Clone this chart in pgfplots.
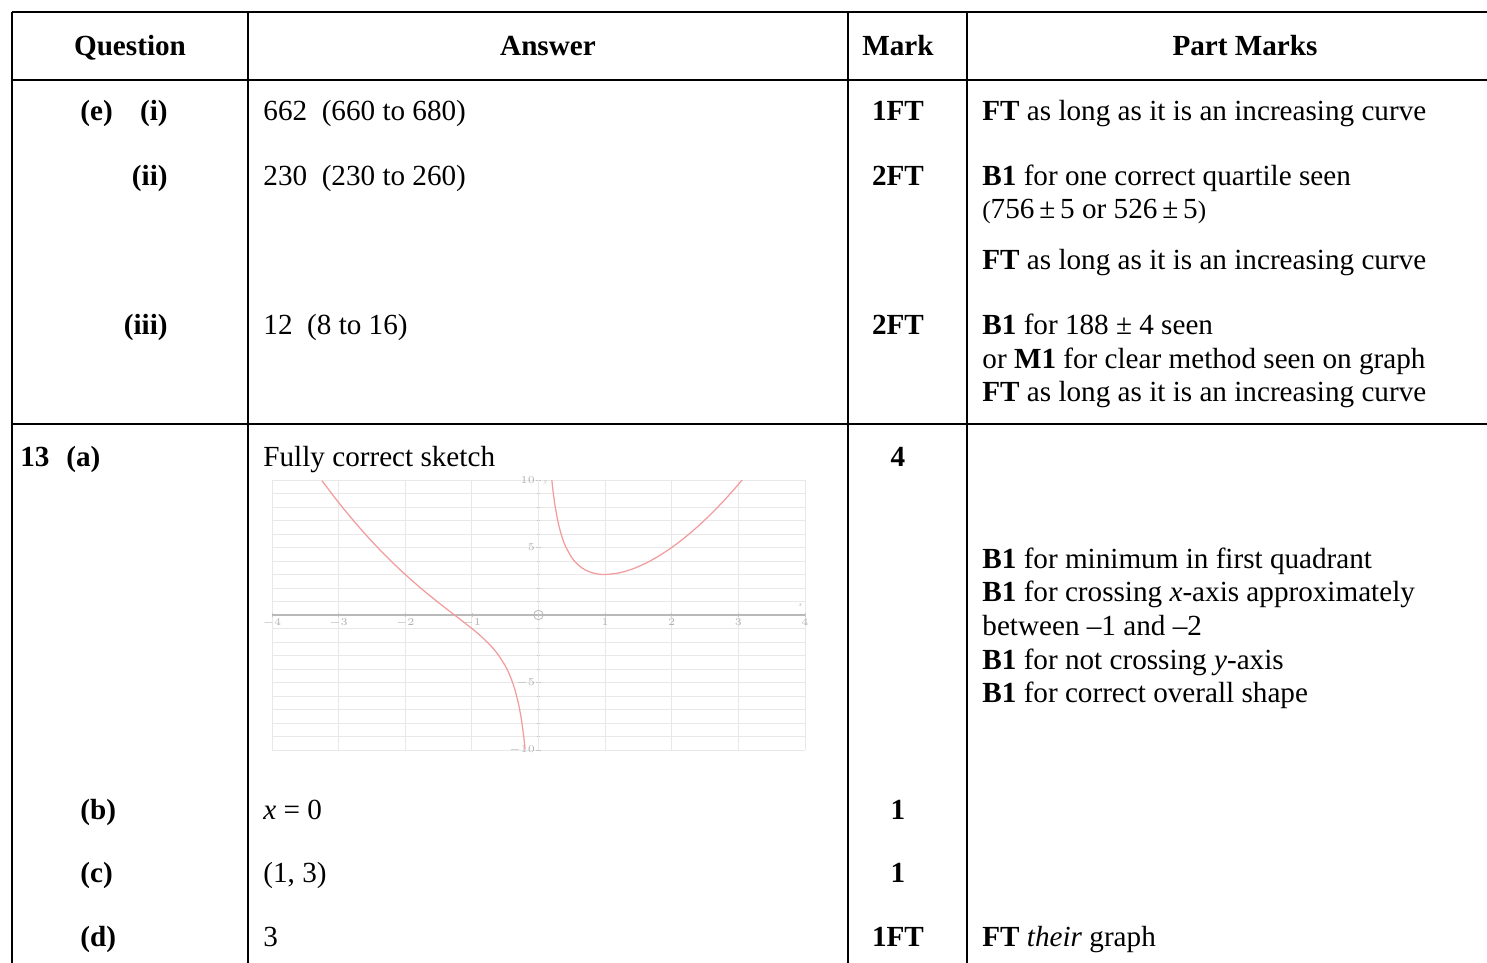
\documentclass[border=0pt]{standalone}
\usepackage{pgfplots}
\pgfplotsset{compat=1.18}
\usepackage{fontspec}
\setmainfont{Liberation Serif}
\definecolor{curve}{HTML}{F29C9C}
\begin{document}
\fontsize{14}{18}\selectfont
\begin{tikzpicture}[x=0.48pt,y=-0.48pt, every node/.style={inner sep=0pt}]
\useasboundingbox (0,0) rectangle (1487,963);
% table rules
\draw[line width=1.2pt] (12,12) -- (1487,12);
\draw[line width=1.2pt] (12,80) -- (1487,80);
\draw[line width=1.2pt] (12,424) -- (1487,424);
\foreach \xx in {12,248,848,967} \draw[line width=1.2pt] (\xx,12) -- (\xx,963);
% header
\node[anchor=base] at (130,55) {\textbf{Question}};
\node[anchor=base] at (548,55) {\textbf{Answer}};
\node[anchor=base] at (898,55) {\textbf{Mark}};
\node[anchor=base] at (1245,55) {\textbf{Part Marks}};
% question column
\node[anchor=base west] at (80,120) {\textbf{(e)}};
\node[anchor=base east] at (168,120) {\textbf{(i)}};
\node[anchor=base east] at (168,185) {\textbf{(ii)}};
\node[anchor=base east] at (168,334) {\textbf{(iii)}};
\node[anchor=base west] at (20,466) {\textbf{13}};
\node[anchor=base west] at (66,466) {\textbf{(a)}};
\node[anchor=base west] at (80,819) {\textbf{(b)}};
\node[anchor=base west] at (80,882) {\textbf{(c)}};
\node[anchor=base west] at (80,946) {\textbf{(d)}};
% answer column
\node[anchor=base west] at (263,120) {662~ (660 to 680)};
\node[anchor=base west] at (263,185) {230~ (230 to 260)};
\node[anchor=base west] at (263,334) {12~ (8 to 16)};
\node[anchor=base west] at (263,466) {Fully correct sketch};
\node[anchor=base west] at (263,819) {\textit{x} = 0};
\node[anchor=base west] at (263,882) {(1, 3)};
\node[anchor=base west] at (263,946) {3};
% mark column
\node[anchor=base] at (898,120) {\textbf{1FT}};
\node[anchor=base] at (898,185) {\textbf{2FT}};
\node[anchor=base] at (898,334) {\textbf{2FT}};
\node[anchor=base] at (898,466) {\textbf{4}};
\node[anchor=base] at (898,819) {\textbf{1}};
\node[anchor=base] at (898,882) {\textbf{1}};
\node[anchor=base] at (898,946) {\textbf{1FT}};
% part marks column
\node[anchor=base west] at (982,120) {\textbf{FT} as long as it is an increasing curve};
\node[anchor=base west] at (982,185) {\textbf{B1} for one correct quartile seen};
\node[anchor=base west] at (982,218) {{\large(}756\,±\,5 or 526\,±\,5{\large)}};
\node[anchor=base west] at (982,269) {\textbf{FT} as long as it is an increasing curve};
\node[anchor=base west] at (982,334) {\textbf{B1} for 188 ± 4 seen};
\node[anchor=base west] at (982,368) {or \textbf{M1} for clear method seen on graph};
\node[anchor=base west] at (982,401) {\textbf{FT} as long as it is an increasing curve};
\node[anchor=base west] at (982,568) {\textbf{B1} for minimum in first quadrant};
\node[anchor=base west] at (982,601) {\textbf{B1} for crossing \textit{x}-axis approximately};
\node[anchor=base west] at (982,635) {between –1 and –2};
\node[anchor=base west] at (982,669) {\textbf{B1} for not crossing \textit{y}-axis};
\node[anchor=base west] at (982,702) {\textbf{B1} for correct overall shape};
\node[anchor=base west] at (982,946) {\textbf{FT} \textit{their} graph};
% sketch
\coordinate (G) at (272,750);
\begin{axis}[at={(G)}, anchor=south west, scale only axis,
  width=255.8pt, height=129.6pt,
  xmin=-4, xmax=4, ymin=-10, ymax=10,
  axis lines=middle, axis line style={gray!55, line width=0.8pt, -},
  xtick={-4,-3,-2,-1,1,2,3,4}, ytick={-10,-5,5,10}, minor ytick={-9,...,9},
  extra x ticks={0}, extra x tick labels={}, extra x tick style={grid=major},
  grid=both, major grid style={gray!18, line width=0.4pt},
  minor grid style={gray!18, line width=0.4pt},
  tick style={gray!45}, major tick length=2pt, minor tick length=1.5pt,
  ticklabel style={font=\fontsize{3}{3}\selectfont, text=gray!60, inner sep=0.5pt},
  xlabel={\fontsize{3}{3}\selectfont\textcolor{gray!60}{\textit{x}}},
  ylabel={\fontsize{3}{3}\selectfont\textcolor{gray!60}{\textit{y}}},
  every axis x label/.style={at={(axis description cs:0.995,0.53)}, anchor=south east},
  every axis y label/.style={at={(axis description cs:0.51,0.998)}, anchor=north west},
  clip=true]
\addplot[curve, line width=0.6pt, smooth] coordinates {
(-3.25,9.95) (-3.0,8.333) (-2.75,6.835) (-2.5,5.45) (-2.25,4.174) (-2.0,3.0)
(-1.75,1.92) (-1.5,0.917) (-1.25,-0.038) (-1.0,-1.0) (-0.9,-1.412) (-0.8,-1.86)
(-0.7,-2.367) (-0.6,-2.973) (-0.5,-3.75) (-0.45,-4.242) (-0.4,-4.84) (-0.35,-5.592)
(-0.3,-6.577) (-0.27,-7.334) (-0.25,-7.938) (-0.22,-9.043) (-0.2,-9.96)};
\addplot[curve, line width=0.6pt, smooth] coordinates {
(0.2,10.04) (0.22,9.139) (0.25,8.063) (0.3,6.757) (0.35,5.837) (0.4,5.16)
(0.5,4.25) (0.6,3.693) (0.7,3.347) (0.8,3.14) (0.9,3.032) (1.0,3.0) (1.2,3.107)
(1.4,3.389) (1.6,3.81) (1.8,4.351) (2.0,5.0) (2.2,5.749) (2.4,6.593) (2.6,7.529)
(2.8,8.554) (3.0,9.667) (3.05,9.958) (3.06,10.03)};
\node[circle, draw=gray!55, line width=0.4pt, inner sep=1.6pt] at (axis cs:0,0) {};
\end{axis}
\end{tikzpicture}
\end{document}
